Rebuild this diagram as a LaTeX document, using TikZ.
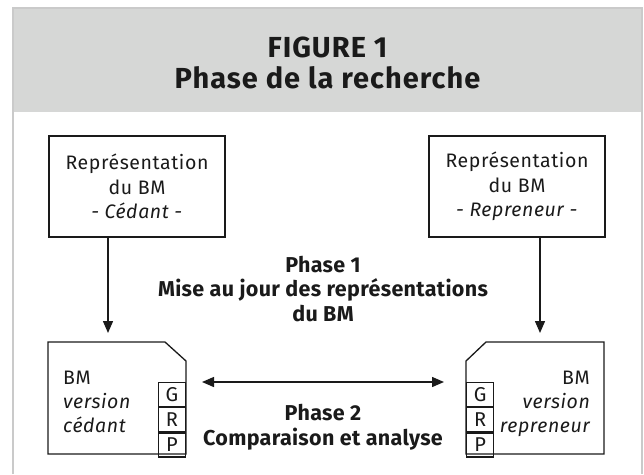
\documentclass[tikz,border=0pt]{standalone}
\usepackage{fontspec}
\setmainfont{Fira Sans}[LetterSpace=3]
\newfontfamily\ttlfont{Fira Sans}[LetterSpace=3.5]
\newfontfamily\phfont{Fira Sans}[LetterSpace=1.5]
\usetikzlibrary{arrows.meta}
\definecolor{headgray}{HTML}{D6D7D6}
\definecolor{framegray}{HTML}{CACACA}
\definecolor{ink}{HTML}{1A1A1A}
\tikzset{
  titletext/.style={font=\ttlfont\fontsize{29}{31}\selectfont\bfseries, text=ink, inner sep=0pt},
  bodytext/.style={font=\fontsize{19.5}{24.5}\selectfont, text=ink, inner sep=0pt},
  phasetext/.style={font=\phfont\fontsize{21.5}{24.5}\selectfont\bfseries, text=ink, align=center, inner sep=0pt},
  repbox/.style={draw=ink, line width=1.3pt, minimum width=176pt, minimum height=101pt, align=center, inner sep=0pt,
    font=\fontsize{19.5}{24.5}\selectfont, text=ink},
  grpbox/.style={draw=ink, line width=1.2pt, minimum width=27pt, minimum height=24pt, inner sep=0pt,
    font=\fontsize{20}{22}\selectfont, text=ink},
  bmshape/.style={draw=ink, line width=1.3pt},
  arr/.style={draw=ink, line width=1.4pt, -{Triangle[length=12pt,width=10pt]}},
  darr/.style={draw=ink, line width=1.4pt, {Triangle[length=12pt,width=10pt]}-{Triangle[length=12pt,width=10pt]}}
}
\begin{document}
\begin{tikzpicture}[x=1pt,y=-1pt]
\useasboundingbox (0,0) rectangle (644,474);
% frame and header
\fill[headgray] (13,8) rectangle (642,112);
\draw[framegray, line width=1.5pt] (13,474) -- (13,8) -- (642,8) -- (642,474);
\node[titletext, anchor=base] (t1) at (327.5,57) {FIGURE 1};
\node[titletext, anchor=base] (t2) at (327.5,88) {Phase de la recherche};
% top boxes
\node[repbox] (repC) at (137,186.5) {Représentation\\du BM\\\textit{- Cédant -}};
\node[repbox] (repR) at (517,186.5) {Représentation\\du BM\\\textit{- Repreneur -}};
% bottom shapes
\draw[bmshape] (48,342) -- (165,342) -- (186,361) -- (186,454) -- (48,454) -- cycle;
\draw[bmshape] (466,361) -- (486,342) -- (604,342) -- (604,454) -- (466,454) -- cycle;
\coordinate (topC) at (108,342);
\coordinate (topR) at (540,342);
\node[grpbox, anchor=north east] (gC) at (186,382) {G};
\node[grpbox, anchor=north] (rC) at (gC.south) {R};
\node[grpbox, anchor=north] (pC) at (rC.south) {P};
\node[grpbox, anchor=north west] (gR) at (466,382) {G};
\node[grpbox, anchor=north] (rR) at (gR.south) {R};
\node[grpbox, anchor=north] (pR) at (rR.south) {P};
\node[bodytext, anchor=base west] (bmC) at (63,384) {BM};
\node[bodytext, anchor=base west] (vC) at (63,408) {\itshape version};
\node[bodytext, anchor=base west] (cC) at (63,432) {\itshape cédant};
\node[bodytext, anchor=base east] (bmR) at (590,384) {BM};
\node[bodytext, anchor=base east] (vR) at (590,408) {\itshape version};
\node[bodytext, anchor=base east] (cR) at (590,432) {\itshape repreneur};
% connectors
\draw[arr, shorten >=9pt] (repC.south -| topC) -- (topC);
\draw[arr, shorten >=9pt] (repR.south -| topR) -- (topR);
\draw[darr, shorten <=16pt, shorten >=22pt] (gC.north east) -- (gR.north west);
% phase labels
\node[phasetext] (ph1) at (323,289) {Phase 1\\Mise au jour des représentations\\du BM};
\node[phasetext] (ph2) at (323,427) {Phase 2\\Comparaison et analyse};
\end{tikzpicture}
\end{document}
